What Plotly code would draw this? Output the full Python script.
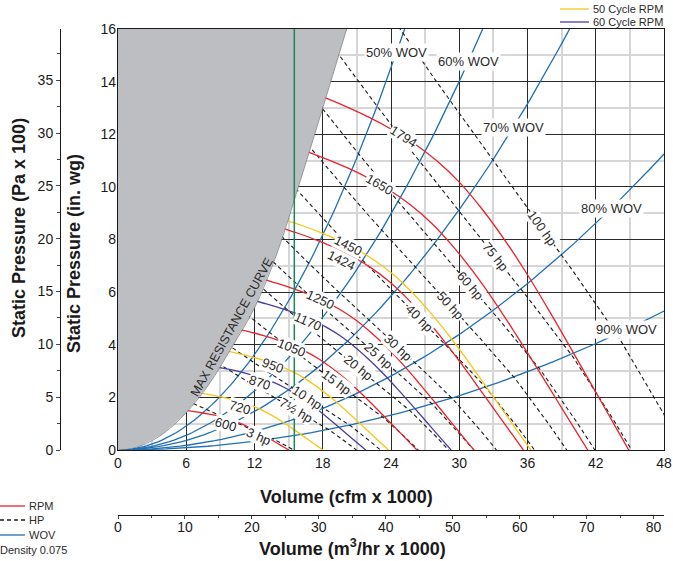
import numpy as np
import plotly.graph_objects as go

# ------------------------------------------------------------------ data
rpm_values = [600, 720, 870, 950, 1050, 1170, 1250, 1424, 1450, 1650, 1794]
rpm_series = ["RPM", "50 Cycle", "60 Cycle", "50 Cycle", "RPM", "60 Cycle",
              "RPM", "RPM", "50 Cycle", "RPM", "RPM"]
base_rpm = 1794
base_rpm_cfm = [16, 18, 20, 22, 24, 26, 28, 30, 32, 34, 36, 38, 40, 42, 44, 44.9]
base_rpm_pressure = [13.76, 13.42, 13.06, 12.66, 12.2, 11.66, 11.0, 10.18, 9.16, 7.98,
                     6.66, 5.22, 3.72, 2.2, 0.68, 0.0]

hp_values = [3, 7.5, 10, 15, 20, 25, 30, 40, 50, 60, 75, 100]
hp_text = ["3 hp", "7½ hp", "10 hp", "15 hp", "20 hp", "25 hp", "30 hp",
           "40 hp", "50 hp", "60 hp", "75 hp", "100 hp"]
base_hp = 100
base_hp_cfm = [19.5, 21.5, 24.8, 28.0, 32.0, 36.0, 40.0, 44.0, 47.8, 49.7]
base_hp_pressure = [19.4, 18.1, 16.0, 14.0, 11.6, 9.2, 6.8, 4.3, 1.5, 0.0]

wov_pct = [50, 60, 70, 80, 90]
wov_edge_cfm = [25.2, 32.06, 39.7, 48.0, 48.0]
wov_edge_pressure = [16.0, 16.0, 16.0, 11.25, 5.28]

max_res_cfm = [0, 2, 4, 6, 8, 10, 12, 14, 16, 18, 20.1]
max_res_pressure = [0, 0.16, 0.63, 1.42, 2.5, 3.9, 5.4, 7.5, 10.2, 13.0, 16.0]

green_line_cfm = 15.5
cfm_max = 48
pressure_max = 16
pa100_per_inwg = 2.49089
m3hr_per_cfm = 1.69901
density = "Density 0.075"

# ------------------------------------------------------------------ style / placement
FONT = "Liberation Sans, Arial, sans-serif"
TXT = "#2a2a2a"
COL = {"RPM": "#e8232d", "50 Cycle": "#f6c71a", "60 Cycle": "#4a3d9f"}
BLUE = "#1f6fb3"
GRAY = "#bdbec1"
GREEN = "#17875c"
rpm_label_q = {600: 28.4, 720: 26.7, 870: 25.7, 950: 25.7, 1050: 26.0, 1170: 25.6,
               1250: 25.5, 1424: 24.8, 1450: 25.05, 1650: 25.0, 1794: 25.1}
rpm_label_dy = {600: -6, 720: -6, 870: -5, 950: -2, 1050: -3, 1170: -3,
                1250: 0, 1424: -9, 1450: 0, 1650: 0, 1794: 0}
hp_label_q = {3: 39.8, 7.5: 37.2, 10: 35.8, 15: 36.2, 20: 36.1, 25: 36.3, 30: 36.8,
              40: 36.0, 50: 36.8, 60: 36.7, 75: 36.5, 100: 37.3}
hp_label_dy = {3: -4}
wov_label_q = [24.5, 30.8, 34.75, 43.4, 44.7]

W, H = 673, 561
ML, MR, MT, MB = 0, 9, 29, 0
PW, PH = W - ML - MR, H - MT - MB
PLOT_L, PLOT_B = 118, 450
XPX = (W - MR - PLOT_L) / cfm_max
YPX = (PLOT_B - MT) / pressure_max
RATIO = YPX / XPX


def px(x):
    return (x - ML) / PW


def py(y):
    return (H - MB - y) / PH


fig = go.Figure()

# WOV system curves
for pct, qe, pe in zip(wov_pct, wov_edge_cfm, wov_edge_pressure):
    q = np.linspace(0, qe, 80)
    p = pe * (q / qe) ** 2
    fig.add_trace(go.Scatter(x=q, y=p, mode="lines", line=dict(color=BLUE, width=1.3),
                             hoverinfo="skip", showlegend=False))

# HP lines (fan-law similar curves)
bq_hp = np.array(base_hp_cfm)
bp_hp = np.array(base_hp_pressure)
for hp in hp_values:
    s = (hp / base_hp) ** (1 / 3)
    fig.add_trace(go.Scatter(x=bq_hp * s, y=bp_hp * s * s, mode="lines",
                             line=dict(color="#1a1a1a", width=1.1, dash="4px,3px"),
                             hoverinfo="skip", showlegend=False))

# RPM curves
bq = np.array(base_rpm_cfm)
bp = np.array(base_rpm_pressure)
for rpm, ser in zip(rpm_values, rpm_series):
    s = rpm / base_rpm
    fig.add_trace(go.Scatter(x=bq * s, y=bp * s * s, mode="lines", line_shape="spline",
                             line=dict(color=COL[ser], width=1.3),
                             hoverinfo="skip", showlegend=False))

# Max resistance region
fig.add_trace(go.Scatter(x=max_res_cfm + [0, 0], y=max_res_pressure + [pressure_max, 0],
                         mode="lines", fill="toself", fillcolor=GRAY,
                         line=dict(width=0), hoverinfo="skip", showlegend=False))
fig.add_trace(go.Scatter(x=max_res_cfm, y=max_res_pressure, mode="lines", line_shape="spline",
                         line=dict(color="#808080", width=0.8),
                         hoverinfo="skip", showlegend=False))

# green vertical line
fig.add_trace(go.Scatter(x=[green_line_cfm, green_line_cfm], y=[0, pressure_max], mode="lines",
                         line=dict(color=GREEN, width=1.5), hoverinfo="skip", showlegend=False))

# dummy traces to activate the secondary axes
fig.add_trace(go.Scatter(x=[None], y=[None], xaxis="x2", yaxis="y", showlegend=False, hoverinfo="skip"))
fig.add_trace(go.Scatter(x=[None], y=[None], xaxis="x", yaxis="y2", showlegend=False, hoverinfo="skip"))

ann = []


def interp_slope(xq, xs, ys):
    return (np.interp(xq + 1, xs, ys) - np.interp(xq - 1, xs, ys)) / 2


lab_font = dict(family=FONT, size=13, color=TXT)

# RPM labels
for rpm in rpm_values:
    s = rpm / base_rpm
    lq = rpm_label_q[rpm]
    lp = np.interp(lq, bq, bp)
    slope = interp_slope(lq, bq, bp) * s
    ang = float(np.degrees(np.arctan(-slope * RATIO)))
    ann.append(dict(x=lq * s, y=lp * s * s, xref="x", yref="y", text=str(rpm), showarrow=False,
                    xanchor="center", yanchor="middle",
                    textangle=ang, yshift=rpm_label_dy[rpm], bgcolor="white", borderpad=0,
                    font=lab_font))

# HP labels
for hp, t in zip(hp_values, hp_text):
    s = (hp / base_hp) ** (1 / 3)
    lq = hp_label_q[hp]
    lp = np.interp(lq, bq_hp, bp_hp)
    slope = interp_slope(lq, bq_hp, bp_hp) * s
    ang = float(np.degrees(np.arctan(-slope * RATIO)))
    ann.append(dict(x=lq * s, y=lp * s * s, xref="x", yref="y", text=t, showarrow=False,
                    xanchor="center", yanchor="middle",
                    textangle=ang, yshift=hp_label_dy.get(hp, 0), bgcolor="white", borderpad=0,
                    font=lab_font))

# WOV labels
for pct, qe, pe, lq in zip(wov_pct, wov_edge_cfm, wov_edge_pressure, wov_label_q):
    ann.append(dict(x=lq, y=pe * (lq / qe) ** 2, xref="x", yref="y", text=f"{pct}% WOV",
                    showarrow=False, xanchor="center", yanchor="middle",
                    bgcolor="white", borderpad=1, font=lab_font))

ann.append(dict(x=10.0, y=4.69, xref="x", yref="y", text="MAX RESISTANCE CURVE", showarrow=False,
                xanchor="center", yanchor="middle",
                textangle=-61, font=dict(family=FONT, size=12.5, color=TXT)))

# axis titles
title_font = dict(family=FONT, size=18, color="#1a1a1a", weight="bold")
for xx, yy, t, a in [(347, 497, "Volume (cfm x 1000)", 0),
                     (353, 547, "Volume (m<sup>3</sup>/hr x 1000)", 0),
                     (74, 254, "Static Pressure (in. wg)", -90),
                     (19, 228, "Static Pressure (Pa x 100)", -90)]:
    ann.append(dict(x=px(xx), y=py(yy), xref="paper", yref="paper", text=t, showarrow=False,
                    xanchor="center", yanchor="middle", textangle=a, font=title_font))

# legends (drawn as shapes + text)
small = dict(family=FONT, size=11, color=TXT)
shapes = []
leg_bl = [("RPM", COL["RPM"], "solid", 506), ("HP", "#1a1a1a", "4px,3px", 520), ("WOV", BLUE, "solid", 535)]
for name, c, d, yy in leg_bl:
    shapes.append(dict(type="line", xref="paper", yref="paper", x0=px(0), x1=px(25), y0=py(yy), y1=py(yy),
                       line=dict(color=c, width=1.3, dash=d)))
    ann.append(dict(x=px(27), y=py(yy), xref="paper", yref="paper", text=name, showarrow=False,
                    xanchor="left", yanchor="middle", font=small))
ann.append(dict(x=px(-2), y=py(550), xref="paper", yref="paper", text=density, showarrow=False,
                xanchor="left", yanchor="middle", font=small))
for name, c, yy in [("50 Cycle RPM", COL["50 Cycle"], 9), ("60 Cycle RPM", COL["60 Cycle"], 22)]:
    shapes.append(dict(type="line", xref="paper", yref="paper", x0=px(560), x1=px(589), y0=py(yy), y1=py(yy),
                       line=dict(color=c, width=1.3)))
    ann.append(dict(x=px(591), y=py(yy), xref="paper", yref="paper", text=name, showarrow=False,
                    xanchor="left", yanchor="middle", font=small))

tickf = dict(family=FONT, size=14, color="#1a1a1a")
fig.update_layout(
    width=W, height=H, margin=dict(l=ML, r=MR, t=MT, b=MB, autoexpand=False),
    paper_bgcolor="white", plot_bgcolor="white", showlegend=False,
    xaxis=dict(domain=[px(PLOT_L), 1], range=[0, cfm_max], dtick=6, tick0=0,
               showgrid=True, gridcolor="#2a2a2a", gridwidth=1.3,
               minor=dict(dtick=3, showgrid=True, gridcolor="#d6d6d6", gridwidth=1.8),
               showline=True, mirror=True, linecolor="#1a1a1a", linewidth=1.2,
               zeroline=False, ticks="", tickfont=tickf, fixedrange=True),
    yaxis=dict(domain=[py(PLOT_B), 1], range=[0, pressure_max], dtick=2, tick0=0,
               showgrid=True, gridcolor="#2a2a2a", gridwidth=1.3,
               minor=dict(dtick=1, showgrid=True, gridcolor="#d6d6d6", gridwidth=1.8),
               showline=True, mirror=True, linecolor="#1a1a1a", linewidth=1.2,
               zeroline=False, ticks="", tickfont=tickf, ticklabelstandoff=-2, fixedrange=True),
    xaxis2=dict(overlaying="x", anchor="free", position=py(515), side="bottom",
                range=[0, cfm_max * m3hr_per_cfm], dtick=10, tick0=0, ticks="outside", ticklen=3,
                minor=dict(dtick=5, ticks="outside", ticklen=2),
                showgrid=False, zeroline=False, showline=True, linecolor="#1a1a1a", linewidth=1,
                tickfont=tickf, ticklabelstandoff=-4, fixedrange=True),
    yaxis2=dict(overlaying="y", anchor="free", position=px(60), side="left",
                range=[0, pressure_max * pa100_per_inwg], dtick=5, tick0=0, ticks="outside", ticklen=4,
                minor=dict(dtick=2.5, ticks="outside", ticklen=3),
                showgrid=False, zeroline=False, showline=True, linecolor="#1a1a1a", linewidth=1,
                tickfont=tickf, fixedrange=True),
    annotations=ann, shapes=shapes,
)

fig.write_html("out.html", config={"displayModeBar": False},
               post_script="document.body.style.margin='0px';")
